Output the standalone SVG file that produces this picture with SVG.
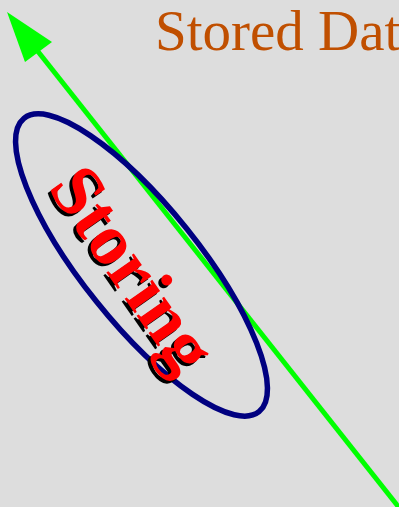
<svg xmlns="http://www.w3.org/2000/svg" width="399" height="507" viewBox="0 0 399 507">
<style>
.lbl{font-family:"Liberation Serif","Times New Roman",serif;}
.st{font-weight:bold;font-size:73px;}
</style>
<rect x="0" y="0" width="399" height="507" fill="#dddddd"/>
<g id="title">
<text class="lbl" x="155" y="50" font-size="57" fill="#c04f00">Stored Data</text>
</g>
<g id="connectors">
<line x1="36" y1="49" x2="405" y2="515" stroke="#00ff00" stroke-width="5"/>
<polygon points="7,12 52,42 25,62" fill="#00ff00"/>
</g>
<g id="storing">
<ellipse cx="141.5" cy="265" rx="188" ry="58" transform="rotate(51.3 141.5 265)" fill="none" stroke="#000080" stroke-width="5.5"/>
<g transform="rotate(55 47 188)">
<text class="lbl st" x="47.5" y="192" fill="#000000">Storing</text>
<text class="lbl st" x="47" y="188" fill="#ff0000">Storing</text>
</g>
</g>
</svg>
